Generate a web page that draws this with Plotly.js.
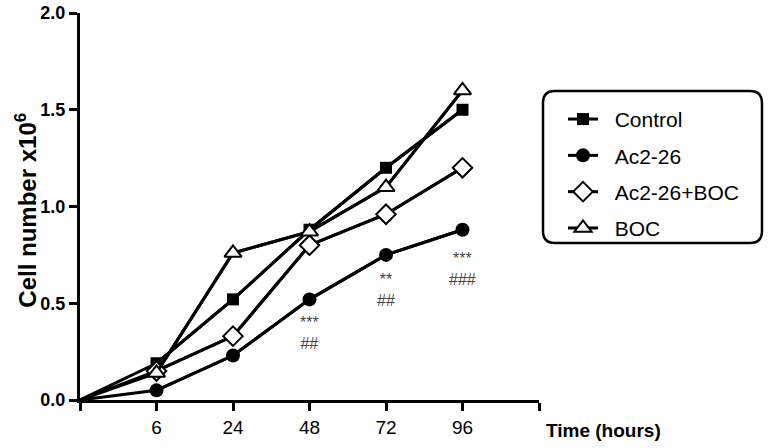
<!DOCTYPE html>
<html><head><meta charset="utf-8">
<script src="https://cdn.plot.ly/plotly-3.0.1.min.js"></script>
<style>html,body{margin:0;padding:0;background:#fff}#chart{width:768px;height:448px}</style>
</head><body><div id="chart"></div>
<script>
var timeLabels = ['0', '6', '24', '48', '72', '96'];
var seriesNames = ['Control', 'Ac2-26', 'Ac2-26+BOC', 'BOC'];
var control = [0, 0.19, 0.52, 0.88, 1.20, 1.50];
var ac226 = [0, 0.05, 0.23, 0.52, 0.75, 0.88];
var ac226boc = [0, 0.15, 0.33, 0.80, 0.96, 1.20];
var boc = [0, 0.14, 0.76, 0.87, 1.10, 1.60];
var statTimes = ['48', '72', '96'];
var statText = ['***<br>##', '**<br>##', '***<br>###'];
var statY = [0.345, 0.57, 0.675];

var FONT = 'Arial, Liberation Sans, sans-serif';
var xpos = timeLabels.map(function(_, i){ return i; });
var styles = [
  {symbol:'square', size:12, color:'#000', lw:0},
  {symbol:'circle', size:14, color:'#000', lw:0},
  {symbol:'diamond', size:15, color:'#fff', lw:2},
  {symbol:'triangle-up', size:15, color:'#fff', lw:2}
];
var allData = [control, ac226, ac226boc, boc];
var traces = [];
// connecting lines from the origin
allData.forEach(function(d, k){
  traces.push({x: xpos, y: d, type:'scatter', mode:'lines', showlegend:false,
    line:{color:'#000', width:3}, hoverinfo:'skip', cliponaxis:false});
});
// measured points (no marker at origin)
allData.forEach(function(d, k){
  var s = styles[k];
  traces.push({
    x: xpos.slice(1), y: d.slice(1), name: '\u00a0\u00a0' + seriesNames[k], type:'scatter', mode:'lines+markers',
    legendgroup: 'g'+k,
    line:{color:'#000', width:3},
    marker:{symbol:s.symbol, size:s.size, color:s.color, line:{color:'#000', width:s.lw}},
    cliponaxis:false
  });
});

var annotations = statTimes.map(function(t, i){
  var idx = timeLabels.indexOf(t);
  return {x: idx, y: statY[i], xref:'x', yref:'y', text: statText[i], showarrow:false,
    yanchor:'middle', font:{family:FONT, size:16, color:'#444'}};
});
annotations.push({x:1.01, y:-0.078, xref:'paper', yref:'paper', xanchor:'left', yanchor:'middle',
  text:'<b>Time (hours)</b>', showarrow:false, font:{family:FONT, size:19, color:'#000'}});
annotations.push({x:-0.117, y:0.49, xref:'paper', yref:'paper', xanchor:'center', yanchor:'middle',
  textangle:-90, text:'<b>Cell number x10<sup>6</sup></b>', showarrow:false,
  font:{family:FONT, size:24, color:'#000'}});

// rounded legend frame (paper coords)
var x0=1.0087, x1=1.4858, y0=0.4057, y1=0.7985, rx=0.026, ry=0.031;
var path = 'M '+(x0+rx)+' '+y1+' L '+(x1-rx)+' '+y1+' Q '+x1+' '+y1+' '+x1+' '+(y1-ry)+
  ' L '+x1+' '+(y0+ry)+' Q '+x1+' '+y0+' '+(x1-rx)+' '+y0+' L '+(x0+rx)+' '+y0+
  ' Q '+x0+' '+y0+' '+x0+' '+(y0+ry)+' L '+x0+' '+(y1-ry)+' Q '+x0+' '+y1+' '+(x0+rx)+' '+y1+' Z';

var layout = {
  width:768, height:448,
  margin:{l:80, r:229, t:13, b:48},
  paper_bgcolor:'#fff', plot_bgcolor:'#fff',
  showlegend:true,
  legend:{x:1.0523, y:0.778, xanchor:'left', yanchor:'top', tracegroupgap:6,
    font:{family:FONT, size:21, color:'#000'}, bgcolor:'rgba(0,0,0,0)', borderwidth:0},
  xaxis:{range:[0,6], tickvals:[0,1,2,3,4,5,6], ticktext:[''].concat(timeLabels.slice(1)).concat(['']),
    showline:true, linewidth:3, linecolor:'#000', ticks:'outside', ticklen:8, tickwidth:3, tickcolor:'#000',
    showgrid:false, zeroline:false, tickfont:{family:FONT, size:19, color:'#000'}, fixedrange:true},
  yaxis:{range:[0,2], tickvals:[0,0.5,1,1.5,2], ticktext:['<b>0.0</b>','<b>0.5</b>','<b>1.0</b>','<b>1.5</b>','<b>2.0</b>'],
    showline:true, linewidth:3, linecolor:'#000', ticks:'outside', ticklen:8, tickwidth:3, tickcolor:'#000',
    showgrid:false, zeroline:false, tickfont:{family:FONT, size:18, color:'#000'}, fixedrange:true},
  annotations: annotations,
  shapes:[{type:'path', xref:'paper', yref:'paper', path:path, line:{color:'#000', width:2.5}}]
};
Plotly.newPlot('chart', traces, layout, {displayModeBar:false, staticPlot:true});
</script></body></html>
